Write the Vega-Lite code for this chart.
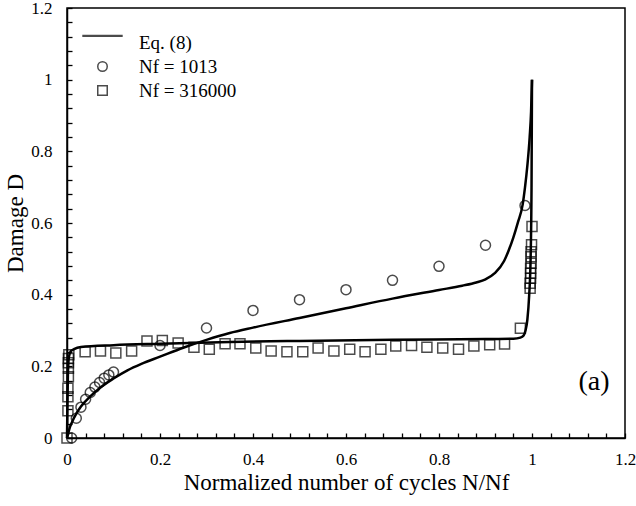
{
  "$schema": "https://vega.github.io/schema/vega-lite/v6.json",
  "width": 558,
  "height": 430,
  "autosize": "none",
  "padding": {"left": 67, "top": 8, "right": 11, "bottom": 68},
  "background": "white",
  "config": {
    "font": "Liberation Serif",
    "view": {"stroke": "black", "strokeWidth": 1.5},
    "axis": {"grid": false, "domainColor": "black", "tickColor": "black", "labelColor": "black", "titleColor": "black", "labelFont": "Liberation Serif", "titleFont": "Liberation Serif", "titleFontWeight": "normal"},
    "legend": {"labelFont": "Liberation Serif"}
  },
  "datasets": {
    "curves": [
      {"curve": "A", "n": 0, "d": 0},
      {"curve": "A", "n": 0.002, "d": 0.01},
      {"curve": "A", "n": 0.005, "d": 0.025},
      {"curve": "A", "n": 0.01, "d": 0.042},
      {"curve": "A", "n": 0.02, "d": 0.068},
      {"curve": "A", "n": 0.03, "d": 0.088},
      {"curve": "A", "n": 0.05, "d": 0.116},
      {"curve": "A", "n": 0.07, "d": 0.139},
      {"curve": "A", "n": 0.1, "d": 0.166},
      {"curve": "A", "n": 0.13, "d": 0.189},
      {"curve": "A", "n": 0.16, "d": 0.207},
      {"curve": "A", "n": 0.2, "d": 0.227},
      {"curve": "A", "n": 0.25, "d": 0.252},
      {"curve": "A", "n": 0.3, "d": 0.274},
      {"curve": "A", "n": 0.35, "d": 0.293},
      {"curve": "A", "n": 0.4, "d": 0.308},
      {"curve": "A", "n": 0.5, "d": 0.335},
      {"curve": "A", "n": 0.6, "d": 0.362},
      {"curve": "A", "n": 0.7, "d": 0.389},
      {"curve": "A", "n": 0.8, "d": 0.413},
      {"curve": "A", "n": 0.85, "d": 0.425},
      {"curve": "A", "n": 0.88, "d": 0.434},
      {"curve": "A", "n": 0.9, "d": 0.443},
      {"curve": "A", "n": 0.92, "d": 0.46},
      {"curve": "A", "n": 0.94, "d": 0.494},
      {"curve": "A", "n": 0.95, "d": 0.524},
      {"curve": "A", "n": 0.96, "d": 0.56},
      {"curve": "A", "n": 0.97, "d": 0.603},
      {"curve": "A", "n": 0.98, "d": 0.652},
      {"curve": "A", "n": 0.985, "d": 0.7},
      {"curve": "A", "n": 0.99, "d": 0.76},
      {"curve": "A", "n": 0.995, "d": 0.84},
      {"curve": "A", "n": 0.998, "d": 0.91},
      {"curve": "A", "n": 1.0, "d": 1.0},
      {"curve": "B", "n": 0, "d": 0},
      {"curve": "B", "n": 0.001, "d": 0.1},
      {"curve": "B", "n": 0.002, "d": 0.18},
      {"curve": "B", "n": 0.004, "d": 0.225},
      {"curve": "B", "n": 0.008, "d": 0.242},
      {"curve": "B", "n": 0.015, "d": 0.248},
      {"curve": "B", "n": 0.03, "d": 0.254},
      {"curve": "B", "n": 0.1, "d": 0.259},
      {"curve": "B", "n": 0.2, "d": 0.263},
      {"curve": "B", "n": 0.35, "d": 0.268},
      {"curve": "B", "n": 0.5, "d": 0.271},
      {"curve": "B", "n": 0.7, "d": 0.274},
      {"curve": "B", "n": 0.9, "d": 0.276},
      {"curve": "B", "n": 0.96, "d": 0.277},
      {"curve": "B", "n": 0.975, "d": 0.28},
      {"curve": "B", "n": 0.982, "d": 0.286},
      {"curve": "B", "n": 0.986, "d": 0.3},
      {"curve": "B", "n": 0.99, "d": 0.33},
      {"curve": "B", "n": 0.994, "d": 0.4},
      {"curve": "B", "n": 0.997, "d": 0.5},
      {"curve": "B", "n": 0.999, "d": 0.7},
      {"curve": "B", "n": 1.0, "d": 1.0}
    ],
    "points": [
      {"series": "Nf = 1013", "n": 0.01, "d": 0},
      {"series": "Nf = 1013", "n": 0.02, "d": 0.055},
      {"series": "Nf = 1013", "n": 0.03, "d": 0.086},
      {"series": "Nf = 1013", "n": 0.04, "d": 0.108},
      {"series": "Nf = 1013", "n": 0.05, "d": 0.127},
      {"series": "Nf = 1013", "n": 0.06, "d": 0.142},
      {"series": "Nf = 1013", "n": 0.07, "d": 0.155},
      {"series": "Nf = 1013", "n": 0.08, "d": 0.167},
      {"series": "Nf = 1013", "n": 0.09, "d": 0.176},
      {"series": "Nf = 1013", "n": 0.1, "d": 0.184},
      {"series": "Nf = 1013", "n": 0.2, "d": 0.258},
      {"series": "Nf = 1013", "n": 0.3, "d": 0.307},
      {"series": "Nf = 1013", "n": 0.4, "d": 0.356},
      {"series": "Nf = 1013", "n": 0.5, "d": 0.386},
      {"series": "Nf = 1013", "n": 0.6, "d": 0.414},
      {"series": "Nf = 1013", "n": 0.7, "d": 0.44},
      {"series": "Nf = 1013", "n": 0.8, "d": 0.479},
      {"series": "Nf = 1013", "n": 0.9, "d": 0.538},
      {"series": "Nf = 1013", "n": 0.985, "d": 0.649},
      {"series": "Nf = 316000", "n": 0, "d": 0},
      {"series": "Nf = 316000", "n": 0.002, "d": 0.076},
      {"series": "Nf = 316000", "n": 0.002, "d": 0.115},
      {"series": "Nf = 316000", "n": 0.002, "d": 0.139},
      {"series": "Nf = 316000", "n": 0.003, "d": 0.171},
      {"series": "Nf = 316000", "n": 0.003, "d": 0.195},
      {"series": "Nf = 316000", "n": 0.003, "d": 0.21},
      {"series": "Nf = 316000", "n": 0.003, "d": 0.222},
      {"series": "Nf = 316000", "n": 0.004, "d": 0.232},
      {"series": "Nf = 316000", "n": 0.039, "d": 0.241},
      {"series": "Nf = 316000", "n": 0.072, "d": 0.243},
      {"series": "Nf = 316000", "n": 0.105, "d": 0.237},
      {"series": "Nf = 316000", "n": 0.139, "d": 0.243},
      {"series": "Nf = 316000", "n": 0.172, "d": 0.271},
      {"series": "Nf = 316000", "n": 0.205, "d": 0.272},
      {"series": "Nf = 316000", "n": 0.239, "d": 0.265},
      {"series": "Nf = 316000", "n": 0.273, "d": 0.253},
      {"series": "Nf = 316000", "n": 0.306, "d": 0.248},
      {"series": "Nf = 316000", "n": 0.34, "d": 0.263},
      {"series": "Nf = 316000", "n": 0.372, "d": 0.263},
      {"series": "Nf = 316000", "n": 0.406, "d": 0.251},
      {"series": "Nf = 316000", "n": 0.439, "d": 0.243},
      {"series": "Nf = 316000", "n": 0.473, "d": 0.241},
      {"series": "Nf = 316000", "n": 0.507, "d": 0.241},
      {"series": "Nf = 316000", "n": 0.54, "d": 0.251},
      {"series": "Nf = 316000", "n": 0.574, "d": 0.243},
      {"series": "Nf = 316000", "n": 0.608, "d": 0.248},
      {"series": "Nf = 316000", "n": 0.641, "d": 0.241},
      {"series": "Nf = 316000", "n": 0.675, "d": 0.248},
      {"series": "Nf = 316000", "n": 0.707, "d": 0.257},
      {"series": "Nf = 316000", "n": 0.741, "d": 0.258},
      {"series": "Nf = 316000", "n": 0.774, "d": 0.253},
      {"series": "Nf = 316000", "n": 0.808, "d": 0.251},
      {"series": "Nf = 316000", "n": 0.842, "d": 0.248},
      {"series": "Nf = 316000", "n": 0.875, "d": 0.257},
      {"series": "Nf = 316000", "n": 0.909, "d": 0.26},
      {"series": "Nf = 316000", "n": 0.941, "d": 0.262},
      {"series": "Nf = 316000", "n": 0.975, "d": 0.306},
      {"series": "Nf = 316000", "n": 0.996, "d": 0.418},
      {"series": "Nf = 316000", "n": 0.996, "d": 0.432},
      {"series": "Nf = 316000", "n": 0.997, "d": 0.446},
      {"series": "Nf = 316000", "n": 0.997, "d": 0.46},
      {"series": "Nf = 316000", "n": 0.997, "d": 0.474},
      {"series": "Nf = 316000", "n": 0.998, "d": 0.488},
      {"series": "Nf = 316000", "n": 0.998, "d": 0.506},
      {"series": "Nf = 316000", "n": 0.998, "d": 0.52},
      {"series": "Nf = 316000", "n": 0.999, "d": 0.539},
      {"series": "Nf = 316000", "n": 1.0, "d": 0.59}
    ]
  },
  "layer": [
    {
      "data": {"name": "curves"},
      "mark": {"type": "line", "color": "black", "strokeWidth": 2.5, "interpolate": "monotone"},
      "encoding": {
        "x": {"field": "n", "type": "quantitative", "scale": {"domain": [0, 1.2], "nice": false},
          "axis": {"orient": "bottom", "tickCount": 100, "values": [0, 0.04, 0.08, 0.12, 0.16, 0.2, 0.24, 0.28, 0.32, 0.36, 0.4, 0.44, 0.48, 0.52, 0.56, 0.6, 0.64, 0.68, 0.72, 0.76, 0.8, 0.84, 0.88, 0.92, 0.96, 1, 1.04, 1.08, 1.12, 1.16, 1.2],
            "labelExpr": "abs(datum.value * 5 - round(datum.value * 5)) < 0.001 ? format(datum.value, '~g') : ''",
            "domainWidth": 1.5, "tickSize": -5, "tickWidth": 1.3, "labelFontSize": 17, "labelPadding": 18, "labelFlush": false, "labelOverlap": false, "title": "Normalized number of cycles N/Nf", "titleFontSize": 23, "titlePadding": 4}},
        "y": {"field": "d", "type": "quantitative", "scale": {"domain": [0, 1.2], "nice": false},
          "axis": {"orient": "left", "tickCount": 100, "values": [0, 0.04, 0.08, 0.12, 0.16, 0.2, 0.24, 0.28, 0.32, 0.36, 0.4, 0.44, 0.48, 0.52, 0.56, 0.6, 0.64, 0.68, 0.72, 0.76, 0.8, 0.84, 0.88, 0.92, 0.96, 1, 1.04, 1.08, 1.12, 1.16, 1.2],
            "labelExpr": "abs(datum.value * 5 - round(datum.value * 5)) < 0.001 ? format(datum.value, '~g') : ''",
            "domainWidth": 1.5, "tickSize": -5, "tickWidth": 1.3, "labelFontSize": 17, "labelPadding": 20, "labelFlush": false, "labelOverlap": false, "title": "Damage D", "titleFontSize": 23, "titlePadding": 3}},
        "detail": {"field": "curve"}
      }
    },
    {
      "data": {"name": "points"},
      "mark": {"type": "point", "filled": false, "stroke": "black", "strokeWidth": 1.5, "size": 100},
      "encoding": {
        "x": {"field": "n", "type": "quantitative"},
        "y": {"field": "d", "type": "quantitative"},
        "shape": {"field": "series", "type": "nominal",
          "scale": {"domain": ["Eq. (8)", "Nf = 1013", "Nf = 316000"], "range": ["M-4.1,-1.5L4.1,-1.5L4.1,-1.3L-4.1,-1.3Z", "circle", "square"]},
          "legend": {"orient": "none", "legendX": 26, "legendY": 25, "title": null, "padding": 0, "labelFontSize": 19, "labelFont": "Liberation Serif", "labelColor": "black", "labelOffset": 27, "rowPadding": 4, "symbolSize": 90, "symbolStrokeColor": "black", "symbolFillColor": "transparent", "symbolStrokeWidth": 1.5}
        }
      }
    },
    {
      "data": {"values": [{"label": "(a)"}]},
      "mark": {"type": "text", "fontSize": 28, "align": "left", "baseline": "middle", "font": "Liberation Serif", "color": "black"},
      "encoding": {
        "x": {"datum": 1.1, "type": "quantitative"},
        "y": {"datum": 0.155, "type": "quantitative"},
        "text": {"field": "label"}
      }
    }
  ]
}
